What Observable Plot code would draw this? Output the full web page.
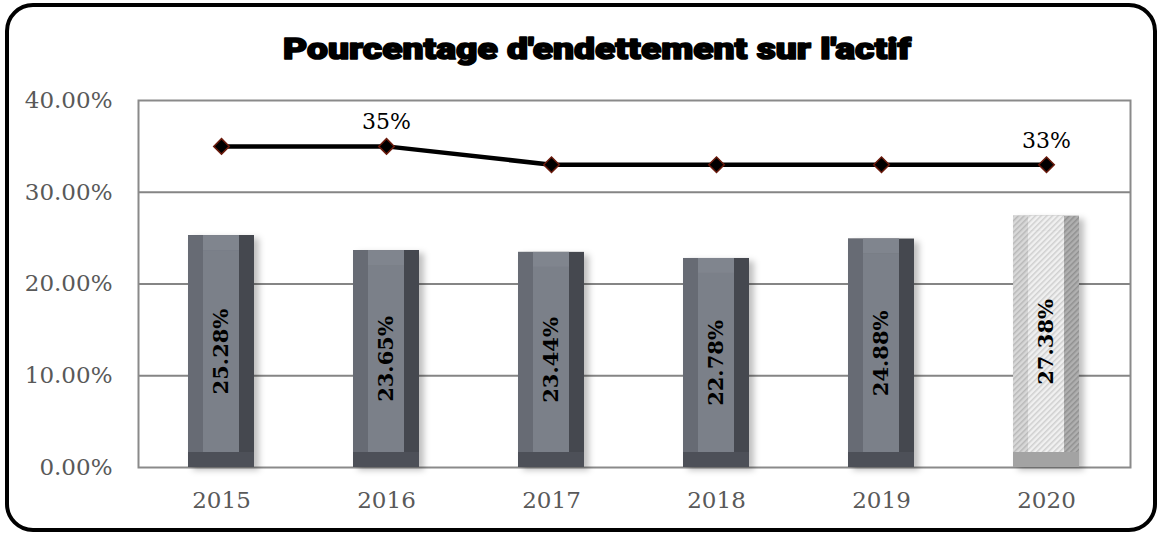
<!DOCTYPE html>
<html>
<head>
<meta charset="utf-8">
<script src="https://cdn.jsdelivr.net/npm/d3@7"></script>
<script src="https://cdn.jsdelivr.net/npm/@observablehq/plot@0.6"></script>
<style>
  html, body { margin: 0; padding: 0; background: #fff; }
  #wrap { position: relative; width: 1158px; height: 535px; overflow: hidden; }
  #border { position: absolute; left: 5px; top: 3px; width: 1152px; height: 529px; box-sizing: border-box;
            border: 4px solid #000; border-radius: 28px; pointer-events: none; z-index: 3; }
  #title { position: absolute; left: 0; top: 27px; width: 1158px; text-align: center; z-index: 2; }
  #chart { position: absolute; left: 0; top: 0; }
</style>
</head>
<body>
<div id="wrap">
  <div id="border"></div>
  <div id="title"><svg width="1158" height="44"><text x="597" y="32" text-anchor="middle"
    font-family="Roboto, 'DejaVu Sans', sans-serif" font-weight="900" font-size="30"
    stroke="#000" stroke-width="1.6" stroke-linejoin="round"
    textLength="628" lengthAdjust="spacingAndGlyphs">Pourcentage d'endettement sur l'actif</text></svg></div>
  <div id="chart"></div>
</div>
<script>
// ---- data ----
const years = ["2015", "2016", "2017", "2018", "2019", "2020"];
const barValues = [25.28, 23.65, 23.44, 22.78, 24.88, 27.38];
const lineValues = [35, 35, 33, 33, 33, 33];
const lineLabels = ["", "35%", "", "", "", "33%"];
const yTicks = [0, 10, 20, 30, 40];

const bars = years.map((y, i) => ({year: y, value: barValues[i], label: barValues[i].toFixed(2) + "%"}));
const pts = years.map((y, i) => ({year: y, value: lineValues[i], label: lineLabels[i]}));
const darkBars = bars.filter(d => d.year !== "2020");
const lightBars = bars.filter(d => d.year === "2020");
const B = 15; // bevel size

function bevelMarks(data, c) {
  return [
    Plot.barY(data, {x: "year", y: "value", fill: c.bottom}),
    Plot.barY(data, {x: "year", y: "value", fill: c.right, insetBottom: B}),
    Plot.barY(data, {x: "year", y: "value", fill: c.left, insetBottom: B, insetRight: B}),
    Plot.rectY(data, {x: "year", y1: "value", y2: "value", fill: c.top, insetLeft: B, insetRight: B, insetBottom: -B}),
    Plot.barY(data, {x: "year", y: "value", fill: c.face, insetLeft: B, insetRight: B, insetTop: B, insetBottom: B})
  ];
}

const serif = "'DejaVu Serif', 'Liberation Serif', serif";

const chart = Plot.plot({
  width: 1158,
  height: 535,
  marginLeft: 138,
  marginRight: 28,
  marginTop: 100,
  marginBottom: 68,
  style: {fontFamily: serif, fontSize: "23px", background: "transparent", overflow: "visible"},
  x: {type: "band", domain: years, paddingInner: 0.6, paddingOuter: 0.3, label: null, tickSize: 0, tickPadding: 24},
  y: {domain: [0, 40], label: null, ticks: yTicks, tickSize: 0, tickPadding: 26, tickFormat: d => d.toFixed(2) + "%"},
  marks: [
    Plot.gridY(yTicks.filter(t => t > 0 && t < 40), {stroke: "#858585", strokeWidth: 2, strokeOpacity: 1}),
    Plot.frame({stroke: "#8a8a8a", strokeWidth: 2}),
    Plot.barY(bars, {x: "year", y: "value", fill: "#000", fillOpacity: 0.25, dx: 5, dy: 3}),
    ...bevelMarks(darkBars, {bottom: "#4d5058", right: "#45484f", left: "#676b74", top: "#80858e", face: "#7b8089"}),
    ...bevelMarks(lightBars, {bottom: "#a3a3a3", right: "url(#hatchDark)", left: "url(#hatchMid)", top: "url(#hatchLight)", face: "url(#hatchLight)"}),
    Plot.text(bars, {x: "year", y: d => d.value / 2, text: "label", rotate: -90, fontWeight: "bold", fontSize: 21, fill: "#000"}),
    Plot.line(pts, {x: "year", y: "value", stroke: "#000", strokeWidth: 4.5}),
    Plot.dot(pts, {x: "year", y: "value", symbol: "diamond2", r: 7, fill: "#000", stroke: "#6a1a0c", strokeWidth: 1.5}),
    Plot.text(pts, {x: "year", y: "value", text: "label", dy: -24, fontSize: 22, fill: "#000"})
  ]
});

// axis label colours
d3.select(chart).selectAll("g[aria-label='y-axis tick label'], g[aria-label='x-axis tick label']").attr("fill", "#595959");
d3.select(chart).selectAll("g[aria-label='y-axis tick label'] text, g[aria-label='x-axis tick label'] text").attr("fill", "#595959");

// patterns for the 2020 bar
const defs = d3.select(chart).insert("defs", ":first-child");
function hatch(id, bg, fg) {
  const p = defs.append("pattern").attr("id", id).attr("patternUnits", "userSpaceOnUse")
    .attr("width", 4).attr("height", 4).attr("patternTransform", "rotate(45)");
  p.append("rect").attr("width", 4).attr("height", 4).attr("fill", bg);
  p.append("rect").attr("width", 1.5).attr("height", 4).attr("fill", fg);
}
hatch("hatchLight", "#f0f0f0", "#cfcfcf");
hatch("hatchMid", "#d8d8d8", "#b8b8b8");
hatch("hatchDark", "#b0b0b0", "#909090");

// soft shadow under the bars
const blur = defs.append("filter").attr("id", "soft").attr("x", "-20%").attr("y", "-20%").attr("width", "140%").attr("height", "140%");
blur.append("feGaussianBlur").attr("stdDeviation", 3);
const groups = chart.querySelectorAll("g[aria-label='bar']");
if (groups.length) groups[0].setAttribute("filter", "url(#soft)");

document.getElementById("chart").appendChild(chart);
</script>
</body>
</html>
